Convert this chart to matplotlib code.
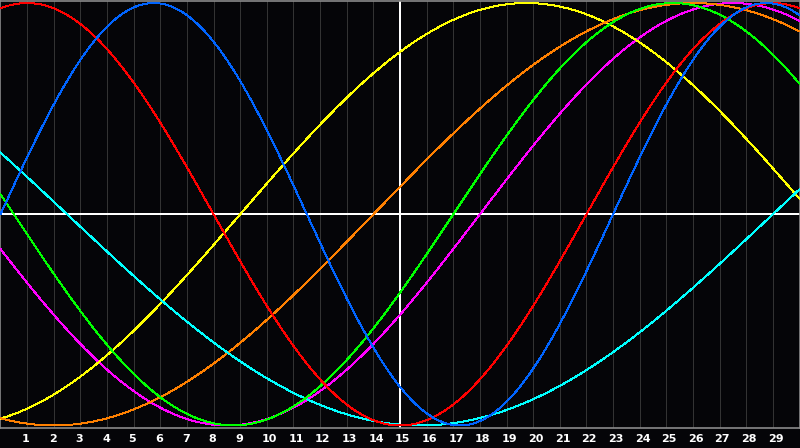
import numpy as np
import matplotlib
matplotlib.use("Agg")
import matplotlib.pyplot as plt

# Biorhythm cycles: period (days) and day of rising zero-crossing
cycle_names = ["Intuition", "Aesthetic", "Awareness", "Spiritual", "Intellectual", "Emotional", "Physical"]
periods = [38, 43, 48, 53, 33, 28, 23]
rising_zero_day = [18.0, 9.0, 14.0, 29.0, 17.0, 22.0, 0.0]
colors = ["#ff00ff", "#ffff00", "#ff8000", "#00ffff", "#00ff00", "#ff0000", "#0064ff"]

day_labels = [str(d) for d in range(1, 30)]
n_days = 30
today = 15

bg = "#050508"
fig = plt.figure(figsize=(8, 4.48), dpi=100, facecolor=bg)
ax = fig.add_axes([0.0006, 20 / 448, 0.9988, 427.5 / 448])
ax.set_facecolor(bg)
ax.set_xlim(0, n_days)
ax.set_ylim(-1.012, 1.012)

# vertical day grid
for d in range(1, n_days):
    ax.axvline(d, color="#333333", lw=0.7, antialiased=False, zorder=1)
ax.axvline(today, color="#ffffff", lw=1.1, antialiased=False, zorder=2)
ax.axhline(0, color="#ffffff", lw=1.1, antialiased=False, zorder=2)

t = np.linspace(0, n_days, 1201)
for P, z, c in zip(periods, rising_zero_day, colors):
    ax.plot(t, np.sin(2 * np.pi * (t - z) / P), color=c, lw=0.7,
            antialiased=False, zorder=3)

for s in ax.spines.values():
    s.set_color("#8a8a8a")
    s.set_linewidth(1.2)

ax.set_xticks([])
ax.set_yticks([])

for lab in day_labels:
    d = int(lab)
    ax.text(d - 5 / 26.67, -1.04, lab, transform=ax.transData,
            ha="left", va="top", color="white", fontsize=8,
            fontweight="bold", family="DejaVu Sans", clip_on=False)

fig.savefig("out.png", dpi=100, facecolor=bg)
